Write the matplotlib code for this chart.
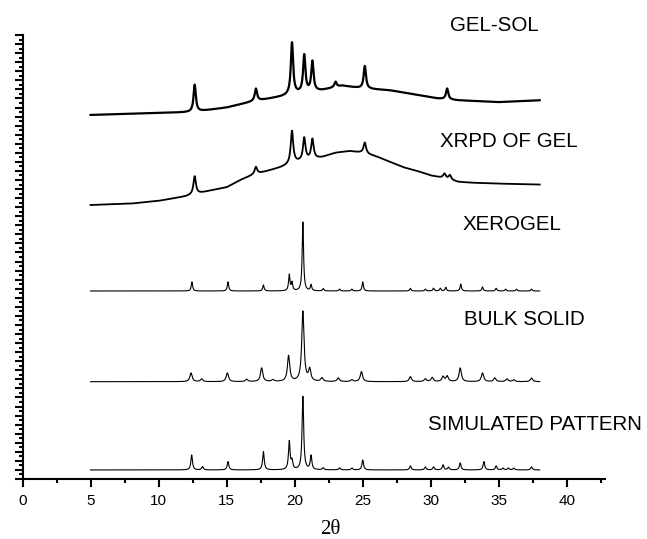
"""Stacked XRPD patterns: gel-sol, gel, xerogel, bulk solid and simulated."""

import numpy as np
import matplotlib
matplotlib.use("Agg")
import matplotlib.pyplot as plt
from matplotlib.ticker import MultipleLocator

plt.rcParams.update({
    "font.family": ["Liberation Sans", "DejaVu Sans"],
    "axes.linewidth": 1.5,
    "xtick.major.width": 1.5,
    "ytick.major.width": 1.5,
    "xtick.minor.width": 1.5,
    "ytick.minor.width": 1.5,
})

# ── Data (2θ in degrees, intensity in stacked arbitrary units) ───────────────
TWO_THETA_START, TWO_THETA_END = 5.0, 38.0

# simulated pattern
SIM_OFFSET = 1.0
SIM_POS = [12.43, 13.23, 15.1, 17.7, 19.6, 19.8, 20.6, 21.2, 22.1, 23.3, 24.2, 25.0,
           28.5, 29.6, 30.2, 30.9, 31.3, 32.16, 33.9, 34.8, 35.3, 35.7, 36.1, 37.4]
SIM_HGT = [1.66, 0.36, 0.92, 2.02, 3.12, 0.9, 8.09, 1.55, 0.22, 0.22, 0.2, 1.1,
           0.44, 0.33, 0.33, 0.55, 0.3, 0.77, 0.92, 0.44, 0.2, 0.2, 0.2, 0.33]

# bulk solid
BULK_OFFSET = 10.74
BULK_POS = [12.38, 13.16, 15.05, 16.47, 17.57, 18.4, 19.55, 20.6, 21.1, 22.0, 23.2,
            24.2, 24.9, 28.5, 29.6, 30.1, 30.9, 31.2, 32.16, 33.8, 34.7, 35.6, 36.1, 37.4]
BULK_HGT = [0.96, 0.3, 0.96, 0.25, 1.51, 0.2, 2.84, 7.73, 1.29, 0.4, 0.4,
            0.2, 1.1, 0.55, 0.3, 0.45, 0.55, 0.6, 1.51, 0.96, 0.4, 0.3, 0.2, 0.4]

# xerogel
XERO_OFFSET = 20.75
XERO_POS = [12.45, 15.1, 17.7, 19.6, 19.8, 20.6, 21.2, 22.1, 23.3, 24.2, 25.0,
            28.5, 29.6, 30.2, 30.7, 31.1, 32.2, 33.8, 34.8, 35.5, 36.3, 37.4]
XERO_HGT = [1.0, 1.0, 0.66, 1.77, 0.9, 7.6, 0.66, 0.25, 0.2, 0.2, 1.0,
            0.3, 0.2, 0.3, 0.3, 0.4, 0.77, 0.45, 0.3, 0.2, 0.2, 0.2]

# XRPD of gel: amorphous background + peaks
GEL_BG_X = [5, 8, 10, 12, 14, 15, 16, 17, 18, 19, 20, 21, 22, 23, 24, 25,
            26, 27, 28, 29, 30, 31, 32, 33, 35, 38]
GEL_BG_Y = [30.24, 30.4, 30.7, 31.2, 31.9, 32.2, 33.0, 33.6, 34.0, 34.4, 34.9, 35.2,
            35.5, 36.0, 36.2, 36.0, 35.6, 35.0, 34.4, 34.0, 33.5, 33.2, 32.8, 32.7,
            32.6, 32.5]
GEL_POS = [12.65, 17.15, 19.8, 20.7, 21.3, 25.15, 31.0, 31.4]
GEL_HGT = [2.0, 0.8, 3.6, 2.5, 2.2, 1.2, 0.5, 0.5]

# gel-sol: amorphous background + peaks
SOL_BG_X = [5, 10, 12.5, 15, 17, 19, 20, 22, 23.5, 25, 27, 29, 30.5, 32, 35, 38]
SOL_BG_Y = [40.18, 40.4, 40.5, 41.0, 41.7, 42.2, 42.5, 42.9, 43.4, 43.1, 42.9,
            42.4, 42.0, 41.8, 41.6, 41.8]
SOL_POS = [12.65, 17.15, 19.8, 20.7, 21.3, 23.0, 25.15, 31.2]
SOL_HGT = [3.0, 1.35, 5.7, 4.1, 3.3, 0.6, 2.5, 1.2]

LABELS = ["SIMULATED PATTERN", "BULK SOLID", "XEROGEL", "XRPD OF GEL", "GEL-SOL"]
LABEL_X = [37.67, 36.86, 36.0, 35.76, 34.65]
LABEL_Y = [6.07, 17.55, 28.1, 37.3, 50.1]


def profile(grid, positions, heights, hwhm):
    out = np.zeros_like(grid)
    for p, h in zip(positions, heights):
        out += h / (1.0 + ((grid - p) / hwhm) ** 2)
    return out


tt = np.linspace(TWO_THETA_START, TWO_THETA_END, 3301)

traces = [
    (SIM_OFFSET + profile(tt, SIM_POS, SIM_HGT, 0.07), 0.8),
    (BULK_OFFSET + profile(tt, BULK_POS, BULK_HGT, 0.10), 0.8),
    (XERO_OFFSET + profile(tt, XERO_POS, XERO_HGT, 0.06), 0.8),
    (np.interp(tt, GEL_BG_X, GEL_BG_Y) + profile(tt, GEL_POS, GEL_HGT, 0.11), 1.3),
    (np.interp(tt, SOL_BG_X, SOL_BG_Y) + profile(tt, SOL_POS, SOL_HGT, 0.10), 1.6),
]

fig = plt.figure(figsize=(6.47, 5.39), dpi=100)
ax = fig.add_axes([0.0348, 0.1113, 0.9003, 0.8237])

for y, lw in traces:
    ax.plot(tt, y, color="black", linewidth=lw)

for text, x, y in zip(LABELS, LABEL_X, LABEL_Y):
    ax.text(x, y, text, fontsize=14.8, ha="center", va="center", clip_on=False)

ax.set_xlim(0, 42.8)
ax.set_ylim(0, 49)
ax.xaxis.set_major_locator(MultipleLocator(5))
ax.xaxis.set_minor_locator(MultipleLocator(2.5))
ax.yaxis.set_major_locator(MultipleLocator(1))
ax.yaxis.set_minor_locator(MultipleLocator(0.5))
ax.tick_params(axis="x", which="major", direction="out", length=6, labelsize=11, pad=5)
ax.tick_params(axis="x", which="minor", direction="out", length=3)
ax.tick_params(axis="y", which="major", direction="out", length=6, labelleft=False)
ax.tick_params(axis="y", which="minor", direction="out", length=3)

for side in ("top", "right"):
    ax.spines[side].set_visible(False)

ax.set_xlabel("2θ", family=["Liberation Serif", "DejaVu Serif"], fontsize=15)
ax.xaxis.set_label_coords(0.528, -0.093)

fig.savefig("out.png", dpi=100)
